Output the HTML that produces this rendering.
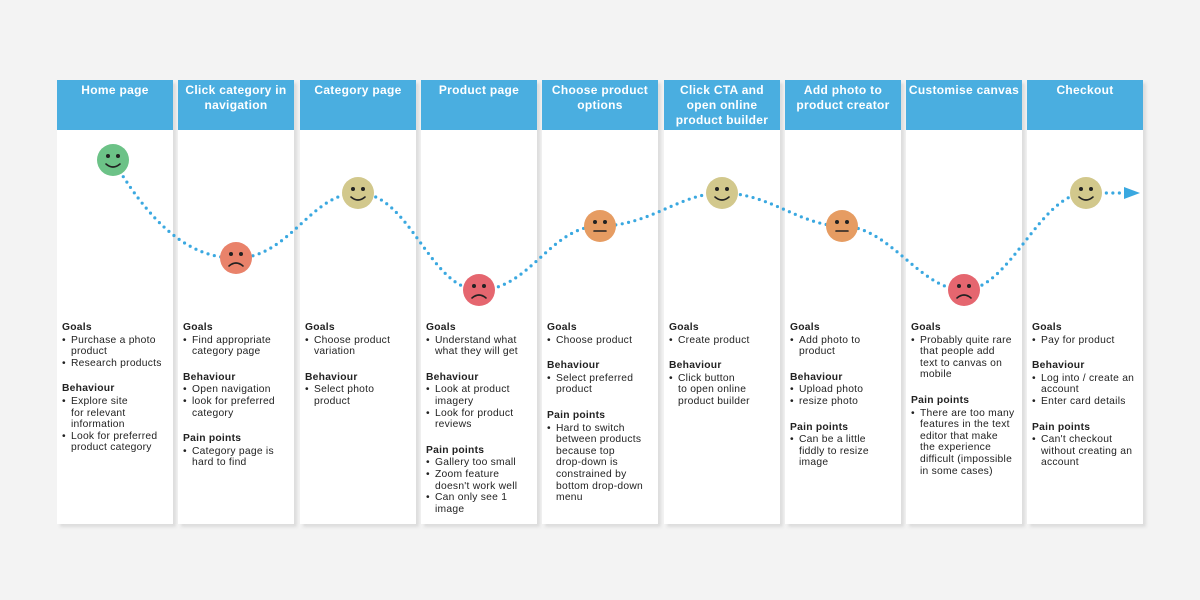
<!DOCTYPE html>
<html><head><meta charset="utf-8"><style>
*{margin:0;padding:0;box-sizing:border-box}
body{width:1200px;height:600px;background:#f3f3f3;position:relative;overflow:hidden;font-family:"Liberation Sans",sans-serif}
.col{position:absolute;top:80px;width:116px;height:444px;background:#fff;box-shadow:3px 3px 3px #dcdcdc}
.hd{height:50px;background:#4aaee0;color:#fff;font-weight:bold;font-size:12px;letter-spacing:0.3px;line-height:15px;text-align:center;padding-top:3px}
.bd{position:absolute;top:242px;left:5px;right:2px;font-size:10.3px;letter-spacing:0.25px;line-height:11.6px;color:#222;white-space:nowrap}
.bd b{display:block;font-weight:bold}
.bd ul{list-style:none;margin:1px 0 14px 0}
.bd li{padding-left:9px;position:relative}
.bd li:before{content:"•";position:absolute;left:0}
</style></head><body>
<div class="col" style="left:57px"><div class="hd">Home page</div><div class="bd"><b>Goals</b><ul><li>Purchase a photo<br>product</li><li>Research products</li></ul><b>Behaviour</b><ul><li>Explore site<br>for relevant<br>information</li><li>Look for preferred<br>product category</li></ul></div></div>
<div class="col" style="left:178px"><div class="hd">Click category in<br>navigation</div><div class="bd"><b>Goals</b><ul><li>Find appropriate<br>category page</li></ul><b>Behaviour</b><ul><li>Open navigation</li><li>look for preferred<br>category</li></ul><b>Pain points</b><ul><li>Category page is<br>hard to find</li></ul></div></div>
<div class="col" style="left:300px"><div class="hd">Category page</div><div class="bd"><b>Goals</b><ul><li>Choose product<br>variation</li></ul><b>Behaviour</b><ul><li>Select photo<br>product</li></ul></div></div>
<div class="col" style="left:421px"><div class="hd">Product page</div><div class="bd"><b>Goals</b><ul><li>Understand what<br>what they will get</li></ul><b>Behaviour</b><ul><li>Look at product<br>imagery</li><li>Look for product<br>reviews</li></ul><b>Pain points</b><ul><li>Gallery too small</li><li>Zoom feature<br>doesn't work well</li><li>Can only see 1<br>image</li></ul></div></div>
<div class="col" style="left:542px"><div class="hd">Choose product<br>options</div><div class="bd"><b>Goals</b><ul><li>Choose product</li></ul><b>Behaviour</b><ul><li>Select preferred<br>product</li></ul><b>Pain points</b><ul><li>Hard to switch<br>between products<br>because top<br>drop-down is<br>constrained by<br>bottom drop-down<br>menu</li></ul></div></div>
<div class="col" style="left:664px"><div class="hd">Click CTA and<br>open online<br>product builder</div><div class="bd"><b>Goals</b><ul><li>Create product</li></ul><b>Behaviour</b><ul><li>Click button<br>to open online<br>product builder</li></ul></div></div>
<div class="col" style="left:785px"><div class="hd">Add photo to<br>product creator</div><div class="bd"><b>Goals</b><ul><li>Add photo to<br>product</li></ul><b>Behaviour</b><ul><li>Upload photo</li><li>resize photo</li></ul><b>Pain points</b><ul><li>Can be a little<br>fiddly to resize<br>image</li></ul></div></div>
<div class="col" style="left:906px"><div class="hd">Customise canvas</div><div class="bd"><b>Goals</b><ul><li>Probably quite rare<br>that people add<br>text to canvas on<br>mobile</li></ul><b>Pain points</b><ul><li>There are too many<br>features in the text<br>editor that make<br>the experience<br>difficult (impossible<br>in some cases)</li></ul></div></div>
<div class="col" style="left:1027px"><div class="hd">Checkout</div><div class="bd"><b>Goals</b><ul><li>Pay for product</li></ul><b>Behaviour</b><ul><li>Log into / create an<br>account</li><li>Enter card details</li></ul><b>Pain points</b><ul><li>Can't checkout<br>without creating an<br>account</li></ul></div></div>
<svg width="1200" height="600" style="position:absolute;left:0;top:0">
<path d="M113,160 C160,240 200,258 236,258 C290,258 310,193 358,193 C410,193 430,290 479,290 C530,290 550,226 600,226 C650,226 680,193 722,193 C770,193 800,226 842,226 C890,226 920,290 964,290 C1010,290 1040,193 1086,193 L1124,193" fill="none" stroke="#3aa8e0" stroke-width="3.2" stroke-linecap="round" stroke-dasharray="0 6.5"/>
<polygon points="1124,187 1140,193 1124,199" fill="#3aa8e0"/>
<g stroke="#222" stroke-width="1.6" fill="none" stroke-linecap="round">
<g transform="translate(113,160)"><circle r="16" fill="#6cc287" stroke="none"/><circle cx="-5" cy="-4" r="2" fill="#222" stroke="none"/><circle cx="5" cy="-4" r="2" fill="#222" stroke="none"/><path d="M-7,4 Q0,10 7,4"/></g>
<g transform="translate(236,258)"><circle r="16" fill="#e9826a" stroke="none"/><circle cx="-5" cy="-4" r="2" fill="#222" stroke="none"/><circle cx="5" cy="-4" r="2" fill="#222" stroke="none"/><path d="M-7,8 Q0,2 7,8"/></g>
<g transform="translate(358,193)"><circle r="16" fill="#d2c88c" stroke="none"/><circle cx="-5" cy="-4" r="2" fill="#222" stroke="none"/><circle cx="5" cy="-4" r="2" fill="#222" stroke="none"/><path d="M-7,4 Q0,10 7,4"/></g>
<g transform="translate(479,290)"><circle r="16" fill="#e5666f" stroke="none"/><circle cx="-5" cy="-4" r="2" fill="#222" stroke="none"/><circle cx="5" cy="-4" r="2" fill="#222" stroke="none"/><path d="M-7,8 Q0,2 7,8"/></g>
<g transform="translate(600,226)"><circle r="16" fill="#e69c62" stroke="none"/><circle cx="-5" cy="-4" r="2" fill="#222" stroke="none"/><circle cx="5" cy="-4" r="2" fill="#222" stroke="none"/><path d="M-6,5 L6,5"/></g>
<g transform="translate(722,193)"><circle r="16" fill="#d2c88c" stroke="none"/><circle cx="-5" cy="-4" r="2" fill="#222" stroke="none"/><circle cx="5" cy="-4" r="2" fill="#222" stroke="none"/><path d="M-7,4 Q0,10 7,4"/></g>
<g transform="translate(842,226)"><circle r="16" fill="#e69c62" stroke="none"/><circle cx="-5" cy="-4" r="2" fill="#222" stroke="none"/><circle cx="5" cy="-4" r="2" fill="#222" stroke="none"/><path d="M-6,5 L6,5"/></g>
<g transform="translate(964,290)"><circle r="16" fill="#e5666f" stroke="none"/><circle cx="-5" cy="-4" r="2" fill="#222" stroke="none"/><circle cx="5" cy="-4" r="2" fill="#222" stroke="none"/><path d="M-7,8 Q0,2 7,8"/></g>
<g transform="translate(1086,193)"><circle r="16" fill="#d2c88c" stroke="none"/><circle cx="-5" cy="-4" r="2" fill="#222" stroke="none"/><circle cx="5" cy="-4" r="2" fill="#222" stroke="none"/><path d="M-7,4 Q0,10 7,4"/></g>
</g>
</svg>
</body></html>
